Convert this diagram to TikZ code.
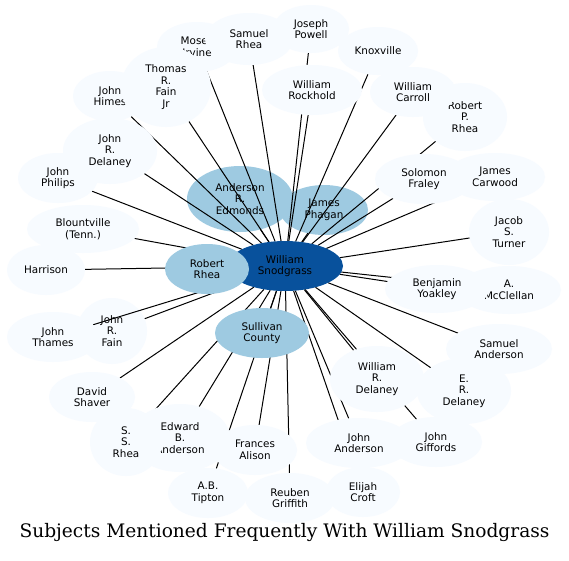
\documentclass[tikz,border=0pt]{standalone}
\usepackage{fontspec}
\newfontfamily\nodefont{DejaVu Sans}
\newfontfamily\titlefont{DejaVu Serif}
\usetikzlibrary{shapes.geometric}
\definecolor{outerc}{HTML}{F7FBFF}
\definecolor{innerc}{HTML}{9ECAE1}
\definecolor{centerc}{HTML}{08519C}
\pgfdeclarelayer{bg}
\pgfdeclarelayer{edges}
\pgfdeclarelayer{thamesedge}
\pgfdeclarelayer{front}
\pgfsetlayers{bg,edges,main,thamesedge,front}
\tikzset{
  bub/.style 2 args={ellipse, inner sep=0pt, outer sep=0pt, minimum width=#1pt, minimum height=#2pt,
    align=center, text=black, font=\nodefont\fontsize{10.4}{11.7}\selectfont},
  outer/.style 2 args={bub={#1}{#2}, fill=outerc},
  inner/.style 2 args={bub={#1}{#2}, fill=innerc},
  hub/.style 2 args={bub={#1}{#2}, fill=centerc},
  link/.style={draw=black, line width=1pt},
  titletext/.style={font=\titlefont\fontsize{18.6}{22}\selectfont, text=black, inner sep=0pt, anchor=base}
}
\begin{document}
\begin{tikzpicture}[x=1pt,y=-1pt]
\useasboundingbox (0,0) rectangle (569,560);
\begin{pgfonlayer}{bg}
\fill[white] (0,0) rectangle (569,560);
\node[inner={106}{66}] (edmonds) at (240,199) {Anderson\\R.\\Edmonds};
\node[inner={88}{50}] (phagan) at (324,210) {James\\Phagan};
\end{pgfonlayer}
% outer nodes (main layer, in drawing order)
\node[outer={80}{50}] (moses) at (197,47) {Moses\\Irvine};
\node[outer={74}{50}] (himes) at (110,96) {John\\Himes};
\node[outer={88}{52}] (srhea) at (249,39) {Samuel\\Rhea};
\node[outer={76}{48}] (powell) at (311,29) {Joseph\\Powell};
\node[outer={90}{80}] (tfain) at (166,87) {Thomas\\R.\\Fain\\Jr};
\node[outer={100}{50}] (rockhold) at (312,90) {William\\Rockhold};
\node[outer={80}{48}] (knox) at (378,51) {Knoxville};
\node[outer={84}{68}] (rprhea) at (465,117) {Robert\\P.\\Rhea};
\node[outer={86}{50}] (carroll) at (413,92) {William\\Carroll};
\node[outer={100}{48}] (carwood) at (495,177) {James\\Carwood};
\node[outer={98}{50}] (fraley) at (424,179) {Solomon\\Fraley};
\node[outer={80}{66}] (turner) at (509,232) {Jacob\\S.\\Turner};
\node[outer={104}{48}] (mcclellan) at (509,290) {A.\\McClellan};
\node[outer={104}{48}] (yoakley) at (437,289) {Benjamin\\Yoakley};
\node[outer={106}{50}] (sanderson) at (499,349) {Samuel\\Anderson};
\node[outer={94}{66}] (erdelaney) at (464,391) {E.\\R.\\Delaney};
\node[outer={92}{50}] (giffords) at (436,442) {John\\Giffords};
\node[outer={74}{50}] (croft) at (363,492) {Elijah\\Croft};
\node[outer={94}{66}] (wrdelaney) at (377,379) {William\\R.\\Delaney};
\node[outer={106}{50}] (janderson) at (359,443) {John\\Anderson};
\node[outer={90}{50}] (griffith) at (290,498) {Reuben\\Griffith};
\node[outer={80}{50}] (tipton) at (208,493) {A.B.\\Tipton};
\node[outer={84}{50}] (alison) at (255,450) {Frances\\Alison};
\node[outer={100}{68}] (eanderson) at (180,438) {Edward\\B.\\Anderson};
\node[outer={72}{68}] (ssrhea) at (126,442) {S.\\S.\\Rhea};
\node[outer={86}{50}] (shaver) at (92,397) {David\\Shaver};
\node[outer={70}{66}] (jrfain) at (112,331) {John\\R.\\Fain};
\node[outer={78}{50}] (harrison) at (46,270) {Harrison};
\node[outer={112}{48}] (blount) at (83,229) {Blountville\\(Tenn.)};
\node[outer={80}{50}] (philips) at (58,178) {John\\Philips};
\node[outer={94}{66}] (jrdelaney) at (110,151) {John\\R.\\Delaney};
% front layer: hub, Robert Rhea, Sullivan County, John Thames
\begin{pgfonlayer}{front}
\node[hub={116}{50}] (snod) at (285,266) {William\\Snodgrass};
\node[inner={84}{50}] (rrhea) at (207,269) {Robert\\Rhea};
\node[inner={94}{50}] (sullivan) at (262,333) {Sullivan\\County};
\node[outer={92}{50}] (thames) at (53,337) {John\\Thames};
\end{pgfonlayer}
% connectors
\begin{pgfonlayer}{edges}
\foreach \t in {edmonds,phagan,rrhea,sullivan,moses,himes,srhea,powell,tfain,rockhold,knox,rprhea,carroll,carwood,fraley,turner,mcclellan,yoakley,sanderson,erdelaney,giffords,croft,wrdelaney,janderson,griffith,tipton,alison,eanderson,ssrhea,shaver,jrfain,harrison,blount,philips,jrdelaney}
  {\draw[link] (snod) -- (\t);}
\end{pgfonlayer}
\begin{pgfonlayer}{thamesedge}
\draw[link] (snod) -- (thames);
\end{pgfonlayer}
\node[titletext] (title) at (284.5,537) {Subjects Mentioned Frequently With William Snodgrass};
\end{tikzpicture}
\end{document}
